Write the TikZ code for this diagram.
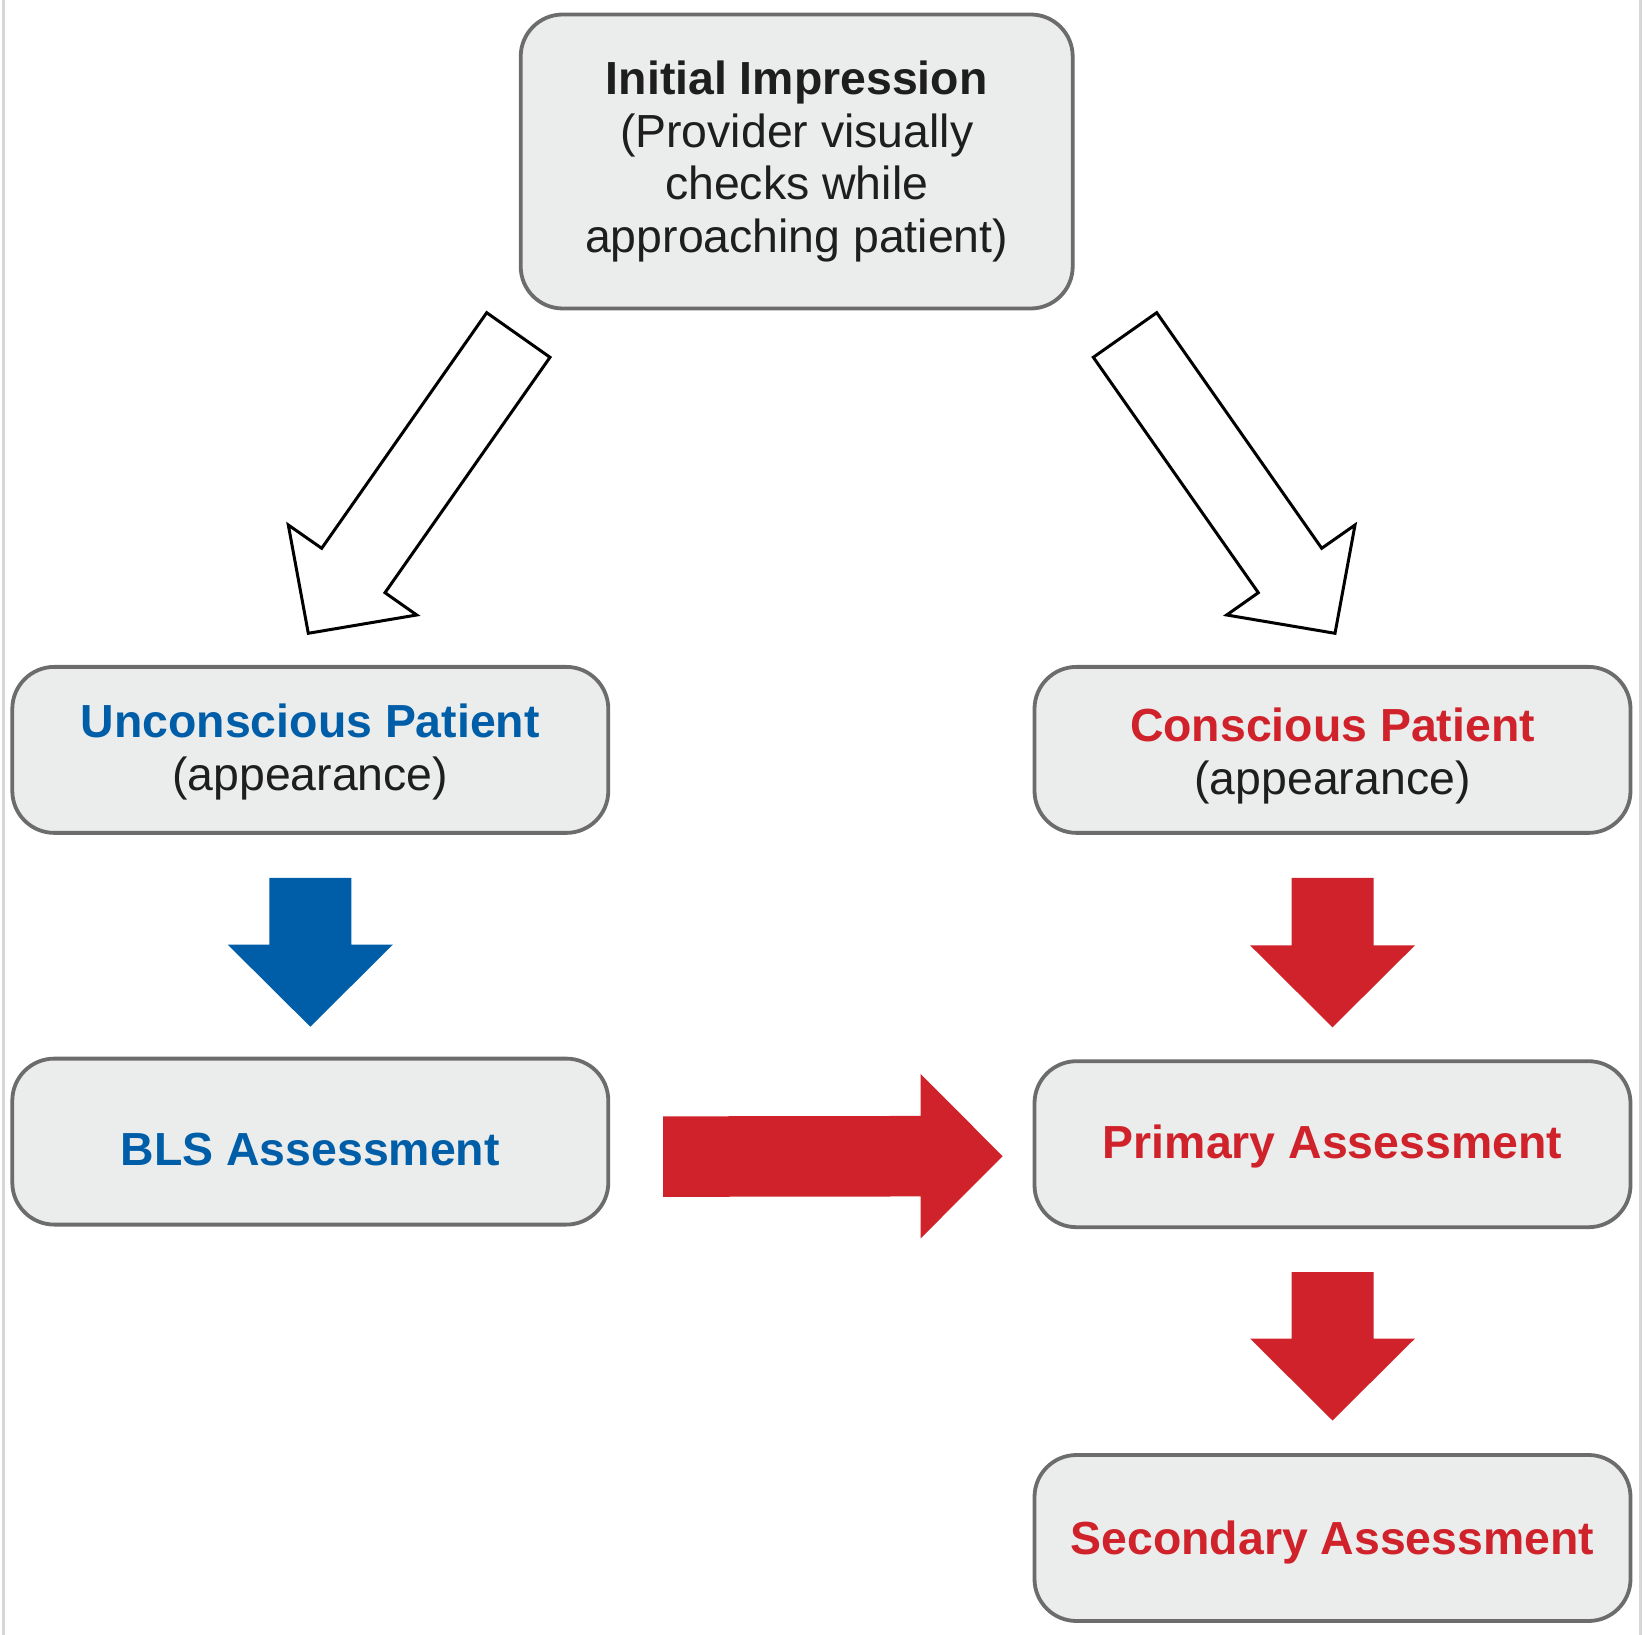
\documentclass[tikz,border=0pt]{standalone}
\usepackage{fontspec}
\setmainfont{Liberation Sans}
\usetikzlibrary{calc}
\definecolor{ahared}{RGB}{208,34,42}
\definecolor{ahablue}{RGB}{0,94,168}
\definecolor{boxfill}{RGB}{235,236,236}
\definecolor{boxline}{RGB}{108,108,108}
\definecolor{txtcol}{RGB}{30,30,30}
\definecolor{edgegray}{RGB}{214,214,214}
\newcommand\vblock[3]{%
  \fill[#1] ($(#2)+(-41,0)$) -- ($(#2)+(41,0)$) -- ($(#3)+(41,-82)$) -- ($(#3)+(82.5,-82)$)
    -- (#3) -- ($(#3)+(-82.5,-82)$) -- ($(#3)+(-41,-82)$) -- cycle;}
\newcommand\lowr[2]{\raisebox{-#1}[\height][\depth]{#2}}
\begin{document}
\begin{tikzpicture}[x=0.25pt,y=-0.25pt,
  box/.style={draw=boxline, line width=0.95pt, fill=boxfill, rounded corners=10.5pt,
    minimum width=149pt, minimum height=41.5pt, align=center, inner sep=0pt,
    text=txtcol, font=\fontsize{11.6pt}{13.15pt}\selectfont},
  hollow/.style={draw=black, fill=white, line width=0.75pt, line join=miter}]
\useasboundingbox (0,0) rectangle (1649,1635);
\draw[edgegray, line width=0.75pt] (3,0) -- (3,1635);
\draw[edgegray, line width=0.75pt] (1640.5,0) -- (1640.5,1635);

\node[box, minimum width=138pt, minimum height=73.5pt] (init) at (796.7,161.5)
  {\textbf{Initial Impression}\\(Provider visually\\checks while\\approaching patient)};
\node[box] (unc) at (310.3,749.9)
  {\lowr{0.5pt}{\textbf{\color{ahablue}Unconscious Patient}}\\\lowr{0.5pt}{(appearance)}};
\node[box] (con) at (1332.5,749.9)
  {\lowr{1.5pt}{\textbf{\color{ahared}Conscious Patient}}\\\lowr{1.5pt}{(appearance)}};
\node[box] (bls) at (310.3,1141.6) {\lowr{2.1pt}{\textbf{\color{ahablue}BLS Assessment}}};
\node[box] (pri) at (1332.5,1144.2) {\lowr{0.6pt}{\textbf{\color{ahared}Primary Assessment}}};
\node[box] (sec) at (1332.5,1538) {\lowr{1.2pt}{\textbf{\color{ahared}Secondary Assessment}}};

% hollow arrows from initial impression
\draw[hollow] (486.7,312.7) -- (550,357.3) -- (385,592.7) -- (416.7,615) -- (308.3,633.3)
  -- (288.3,525) -- (321.7,548.3) -- cycle;
\draw[hollow] (1156.7,312.7) -- (1093.3,357.3) -- (1258.3,592.7) -- (1226.7,615) -- (1335,633.3)
  -- (1355,525) -- (1321.7,548.3) -- cycle;

% block arrows
\coordinate (a1s) at ($(unc.south)+(0,43)$);
\coordinate (a1t) at ($(bls.north)+(0,-30)$);
\vblock{ahablue}{a1s}{a1t}
\coordinate (a2s) at ($(con.south)+(0,43)$);
\coordinate (a2t) at ($(pri.north)+(0,-32)$);
\vblock{ahared}{a2s}{a2t}
\coordinate (a3s) at ($(pri.south)+(0,43)$);
\coordinate (a3t) at ($(sec.north)+(0,-32.6)$);
\vblock{ahared}{a3s}{a3t}
\coordinate (hs) at ($(bls.east)+(53,15)$);
\coordinate (ht) at ($(pri.west)+(-30,12)$);
\fill[ahared] ($(hs)+(0,-40.25)$) -- ($(ht)+(-82,-40.25)$) -- ($(ht)+(-82,-82.25)$) -- (ht)
  -- ($(ht)+(-82,82.25)$) -- ($(ht)+(-82,40.25)$) -- ($(hs)+(0,40.25)$) -- cycle;
\end{tikzpicture}
\end{document}
